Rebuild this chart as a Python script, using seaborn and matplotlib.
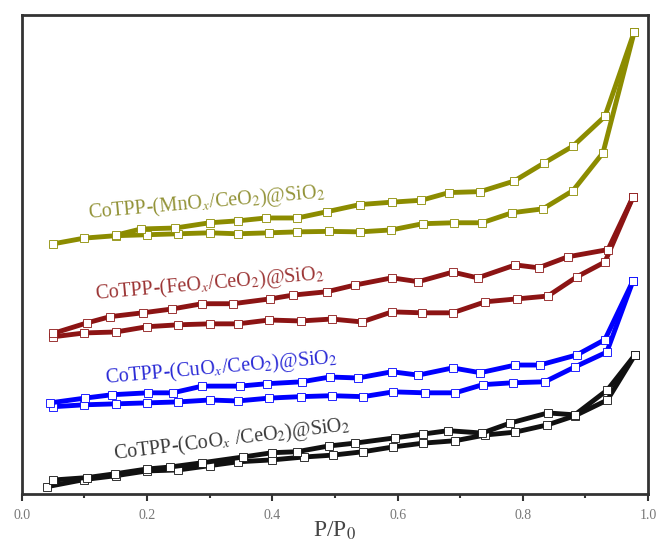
import numpy as np
import pandas as pd
import matplotlib
matplotlib.use("Agg")
import matplotlib.pyplot as plt
from matplotlib.ticker import MultipleLocator
import seaborn as sns

# Isotermas N2 (unidades arbitrarias, curvas desplazadas)
# CoOx
co_ads_x = [0.04, 0.10, 0.15, 0.20, 0.25, 0.30, 0.345, 0.40, 0.45, 0.497, 0.545, 0.593, 0.641, 0.692, 0.74, 0.788, 0.839, 0.883, 0.935, 0.979]
co_ads_y = [1.5, 3.0, 3.8, 4.8, 5.0, 5.9, 6.7, 7.1, 7.7, 8.1, 8.8, 9.8, 10.6, 11.1, 12.3, 12.9, 14.4, 16.3, 19.6, 29.0]
co_des_x = [0.935, 0.883, 0.84, 0.78, 0.735, 0.681, 0.641, 0.596, 0.532, 0.49, 0.439, 0.40, 0.353, 0.288, 0.236, 0.20, 0.149, 0.104, 0.05]
co_des_y = [21.7, 16.5, 16.9, 14.8, 12.7, 13.2, 12.5, 11.7, 10.6, 10.0, 8.8, 8.6, 7.7, 6.5, 5.6, 5.2, 4.2, 3.4, 2.9]

# CuOx
cu_ads_x = [0.05, 0.10, 0.15, 0.20, 0.25, 0.30, 0.345, 0.395, 0.445, 0.495, 0.545, 0.593, 0.644, 0.692, 0.736, 0.784, 0.835, 0.883, 0.934, 0.976]
cu_ads_y = [18.2, 18.6, 18.8, 19.0, 19.2, 19.6, 19.4, 20.0, 20.3, 20.5, 20.3, 21.3, 21.1, 21.1, 22.8, 23.2, 23.4, 26.5, 29.6, 44.5]
cu_des_x = [0.931, 0.886, 0.827, 0.788, 0.732, 0.688, 0.633, 0.591, 0.537, 0.492, 0.447, 0.391, 0.348, 0.288, 0.241, 0.201, 0.144, 0.101, 0.045]
cu_des_y = [32.2, 29.0, 26.9, 26.9, 25.3, 26.3, 24.8, 25.5, 24.2, 24.4, 23.4, 23.0, 22.5, 22.5, 21.1, 21.1, 20.7, 20.0, 19.0]

# FeOx
fe_ads_x = [0.05, 0.10, 0.15, 0.20, 0.25, 0.30, 0.345, 0.395, 0.445, 0.495, 0.543, 0.591, 0.639, 0.688, 0.74, 0.79, 0.84, 0.886, 0.931, 0.976]
fe_ads_y = [32.8, 33.6, 33.8, 34.9, 35.3, 35.5, 35.5, 36.3, 36.1, 36.5, 35.9, 38.0, 37.8, 37.8, 40.1, 40.7, 41.3, 45.3, 48.4, 62.0]
fe_des_x = [0.936, 0.872, 0.825, 0.788, 0.728, 0.688, 0.633, 0.591, 0.532, 0.487, 0.433, 0.396, 0.337, 0.288, 0.24, 0.193, 0.141, 0.104, 0.05]
fe_des_y = [51.0, 49.5, 47.2, 47.8, 45.1, 46.3, 44.3, 45.1, 43.6, 42.2, 41.5, 40.7, 39.7, 39.7, 38.6, 37.8, 37.0, 35.7, 33.5]

# MnOx
mn_ads_x = [0.05, 0.10, 0.15, 0.20, 0.25, 0.30, 0.345, 0.395, 0.44, 0.49, 0.54, 0.59, 0.64, 0.69, 0.735, 0.783, 0.832, 0.88, 0.928, 0.978]
mn_ads_y = [52.2, 53.4, 53.9, 54.1, 54.3, 54.5, 54.3, 54.5, 54.7, 54.8, 54.7, 55.1, 56.4, 56.6, 56.6, 58.7, 59.5, 63.3, 71.2, 96.5]
mn_des_x = [0.931, 0.88, 0.833, 0.786, 0.732, 0.682, 0.638, 0.591, 0.54, 0.487, 0.44, 0.39, 0.345, 0.30, 0.245, 0.19, 0.15]
mn_des_y = [78.8, 72.6, 69.0, 65.3, 63.1, 62.9, 61.3, 60.9, 60.4, 58.9, 57.6, 57.6, 57.0, 56.6, 55.5, 55.3, 54.0]

muestras = [
    ("CoTPP-(CoO$_x$ /CeO$_2$)@SiO$_2$", co_ads_x, co_ads_y, co_des_x, co_des_y, "#111111", "#3a3a3a", 0.335, 11.3, 7),
    ("CoTPP-(CuO$_x$/CeO$_2$)@SiO$_2$", cu_ads_x, cu_ads_y, cu_des_x, cu_des_y, "#0000ff", "#2b2bd6", 0.318, 26.3, 5),
    ("CoTPP-(FeO$_x$/CeO$_2$)@SiO$_2$", fe_ads_x, fe_ads_y, fe_des_x, fe_des_y, "#8c1414", "#9c3535", 0.30, 43.8, 5),
    ("CoTPP-(MnO$_x$/CeO$_2$)@SiO$_2$", mn_ads_x, mn_ads_y, mn_des_x, mn_des_y, "#8c8c00", "#939338", 0.295, 60.7, 5),
]

sns.set_style("ticks")
plt.rcParams['font.family'] = ['Liberation Serif', 'DejaVu Serif']
plt.rcParams['mathtext.fontset'] = 'stix'

fig = plt.figure(figsize=(6.62, 5.5), dpi=100)
ax = fig.add_axes([0.033, 0.102, 0.946, 0.871])

for nombre, ax_x, ax_y, de_x, de_y, col, col_txt, tx, ty, rot in muestras:
    # rama de adsorcion
    sns.lineplot(x=ax_x, y=ax_y, sort=False, estimator=None, ax=ax, color=col,
                 lw=3.5, marker='s', markersize=5.5, markerfacecolor='white',
                 markeredgecolor=col, markeredgewidth=0.6)
    # rama de desorcion (parte del ultimo punto)
    sns.lineplot(x=[ax_x[-1]] + de_x, y=[ax_y[-1]] + de_y, sort=False, estimator=None,
                 ax=ax, color=col, lw=3.5, marker='s', markersize=5.5,
                 markerfacecolor='white', markeredgecolor=col, markeredgewidth=0.6)
    ax.text(tx, ty, nombre, color=col_txt, fontsize=14.5, rotation=rot,
            ha='center', va='center')

ax.set_xlim(0, 1.0)
ax.set_ylim(0, 100)
ax.set_yticks([])
ax.xaxis.set_major_locator(MultipleLocator(0.2))
ax.xaxis.set_minor_locator(MultipleLocator(0.1))
ax.tick_params(axis='x', which='major', direction='out', length=5, width=1.5,
               labelsize=10, colors='#333333', labelcolor='#777777', pad=6)
ax.tick_params(axis='x', which='minor', direction='out', length=3, width=1.5,
               colors='#333333')
ax.set_xticks([0, 0.2, 0.4, 0.6, 0.8, 1.0])
ax.set_xticklabels(['0.0', '0.2', '0.4', '0.6', '0.8', '1.0'])
for s in ax.spines.values():
    s.set_linewidth(2)
    s.set_color('#333333')
ax.set_xlabel("P/P$_0$", fontsize=17, color='#444444', labelpad=-2)
ax.set_ylabel("")

fig.savefig("out.png", dpi=100)
